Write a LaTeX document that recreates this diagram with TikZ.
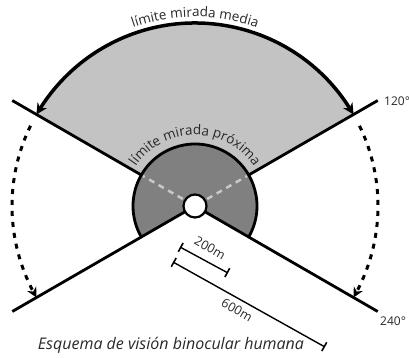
\documentclass[tikz,border=0pt]{standalone}
\usepackage{fontspec}
\setmainfont{Open Sans}
\usetikzlibrary{arrows.meta,bending,decorations.text}
\definecolor{lightfill}{RGB}{195,195,195}
\definecolor{darkfill}{RGB}{128,128,128}
\definecolor{dashgray}{RGB}{200,200,200}
\definecolor{txt}{RGB}{40,40,40}
\begin{document}
\begin{tikzpicture}[x=1pt,y=1pt,
  edge/.style={line width=2.8pt},
  bigarc/.style={line width=3.5pt},
  dasharc/.style={line width=3pt,dash pattern=on 5pt off 6pt},
  ruler/.style={line width=1.4pt,{Bar[width=10pt,line width=1.6pt]}-{Bar[width=10pt,line width=1.6pt]}},
  lbl/.style={text=txt,font=\fontsize{12.5}{15}\selectfont},
  anglbl/.style={text=txt,font=\fontsize{12}{14}\selectfont,anchor=west,inner sep=0pt}]
\useasboundingbox (-195,-151) rectangle (214,206);
\coordinate (O) at (0,0);
% light sector
\fill[lightfill] (O) -- (30:183) arc[start angle=30,end angle=150,radius=183] -- cycle;
% dark sector
\fill[darkfill] (O) -- (-30:62) arc[start angle=-30,end angle=210,radius=62] -- cycle;
\draw[line width=2.8pt] (-30:62) arc[start angle=-30,end angle=210,radius=62];
% light dashed lines inside dark sector
\draw[dashgray,line width=2.5pt,dash pattern=on 6pt off 5pt] (30:14) -- (30:60);
\draw[dashgray,line width=2.5pt,dash pattern=on 6pt off 5pt] (150:14) -- (150:60);
% boundary lines
\coordinate (u1a) at (30:62);  \coordinate (u1b) at (30:211);
\coordinate (u2a) at (150:62); \coordinate (u2b) at (150:211);
\coordinate (l1a) at (-30:11); \coordinate (l1b) at (-30:211);
\coordinate (l2a) at (210:11); \coordinate (l2b) at (210:211);
\draw[edge] (u1a) -- (u1b);
\draw[edge] (u2a) -- (u2b);
\draw[edge] (l1a) -- (l1b);
\draw[edge] (l2a) -- (l2b);
% solid arc with arrows
\draw[bigarc,{Stealth[length=11pt,width=11pt,bend]}-{Stealth[length=11pt,width=11pt,bend]}] (30:183) arc[start angle=30,end angle=150,radius=183];
% dashed arcs
\draw[dasharc,-{Stealth[length=10pt,width=10pt,bend]}] (154:183) arc[start angle=154,end angle=210,radius=183];
\draw[dasharc,-{Stealth[length=10pt,width=10pt,bend]}] (26:183) arc[start angle=26,end angle=-30,radius=183];
% eye
\node[circle,draw,line width=2.2pt,fill=white,minimum size=23pt,inner sep=0pt] (eye) at (O) {};
% curved texts
\path[decorate,decoration={text along path,text align=center,
  text={|\color{txt}\fontsize{13.5}{16}\selectfont|límite mirada media}}]
  (150:189) arc[start angle=150,end angle=30,radius=189];
\path[decorate,decoration={text along path,text align=center,
  text={|\color{txt}\fontsize{13.5}{16}\selectfont|límite mirada próxima}}]
  (165:71) arc[start angle=165,end angle=15,radius=71];
% rulers
\coordinate (r2a) at (-15,-41);
\coordinate (r2b) at (33,-67);
\coordinate (r6a) at (-22,-56);
\coordinate (r6b) at (130,-141);
\draw[ruler] (r2a) -- (r2b);
\draw[ruler] (r6a) -- (r6b);
\node[lbl,rotate=-30] (t200) at (15,-42) {200m};
\node[lbl,rotate=-30] (t600) at (42,-104) {600m};
% angle labels
\node[anglbl] (a120) at (189,105) {120°};
\node[anglbl] (a240) at (185,-115) {240°};
% caption
\node[text=txt,font=\fontsize{16}{19}\selectfont\itshape] (cap) at (-24,-139) {Esquema de visión binocular humana};
\end{tikzpicture}
\end{document}
